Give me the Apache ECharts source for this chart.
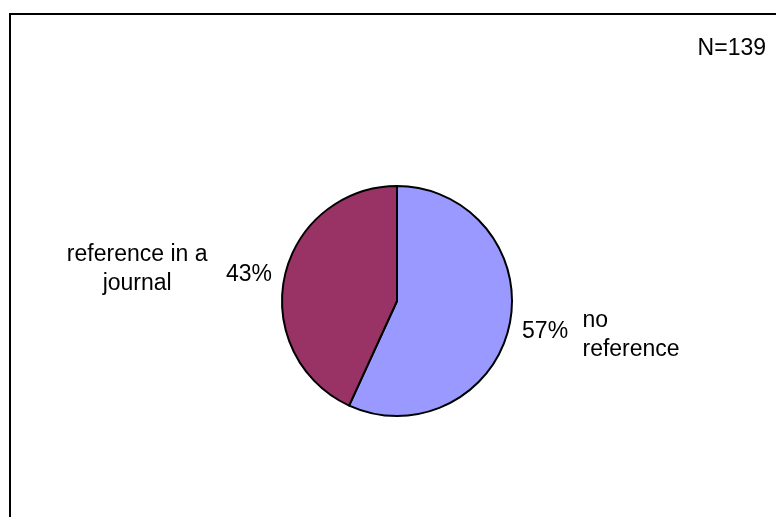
<!DOCTYPE html>
<html>
<head>
<meta charset="utf-8">
<script src="https://cdn.jsdelivr.net/npm/echarts@6/dist/echarts.min.js"></script>
<style>
  html, body { margin: 0; padding: 0; background: #fff; }
  #chart { width: 776px; height: 517px; }
</style>
</head>
<body>
<div id="chart"></div>
<script>
// Survey answers: where the source of the information was given
const categories = ['no reference', 'reference in a journal'];
const nameLabels = ['no\nreference', 'reference in a\njournal'];
const counts = [79, 60];
const sampleSizeLabel = 'N=139';
const sliceColors = ['#9999FF', '#993366'];
const nameAlign = ['left', 'center'];

const FONT = '"Liberation Sans", Arial, Helvetica, sans-serif';
const FONT_SIZE = 23;
const chart = echarts.init(document.getElementById('chart'), null, { renderer: 'canvas' });

const sliceData = categories.map((c, i) => ({
  name: c,
  value: counts[i],
  itemStyle: { color: sliceColors[i] }
}));

const nameData = categories.map((c, i) => ({
  name: c,
  value: counts[i],
  label: { rich: { n: { align: nameAlign[i], fontFamily: FONT, fontSize: FONT_SIZE, lineHeight: 29, color: '#000' } } }
}));

const option = {
  animation: false,
  title: {
    text: sampleSizeLabel,
    right: 5,
    top: 32,
    textStyle: { fontFamily: FONT, fontSize: FONT_SIZE, fontWeight: 'normal', color: '#000' }
  },
  graphic: [{
    type: 'rect',
    silent: true,
    z: -1,
    shape: { x: 10, y: 14, width: 900, height: 700 },
    style: { fill: 'none', stroke: '#000', lineWidth: 2 }
  }],
  series: [
    {
      // slices with their percentages
      type: 'pie',
      center: [397, 301],
      radius: 115,
      startAngle: 90,
      clockwise: true,
      percentPrecision: 0,
      avoidLabelOverlap: false,
      itemStyle: { borderColor: '#000', borderWidth: 2 },
      label: {
        show: true,
        position: 'outside',
        formatter: '{d}%',
        fontFamily: FONT,
        fontSize: FONT_SIZE,
        color: '#000',
        distanceToLabelLine: 0
      },
      labelLine: { show: false, length: 13, length2: 0 },
      labelLayout: p => ({ dy: p.dataIndex === 0 ? 3 : 1 }),
      emphasis: { disabled: true },
      data: sliceData
    },
    {
      // category names, set further out
      type: 'pie',
      center: [397, 301],
      radius: 115,
      startAngle: 90,
      clockwise: true,
      silent: true,
      avoidLabelOverlap: false,
      itemStyle: { color: 'rgba(0,0,0,0)', borderWidth: 0 },
      label: {
        show: true,
        position: 'outside',
        formatter: p => '{n|' + nameLabels[p.dataIndex] + '}',
        distanceToLabelLine: 5
      },
      labelLine: { show: false, length: 38, length2: 31 },
      labelLayout: p => (p.dataIndex === 0 ? { dy: 2 } : { dx: -4, dy: 1 }),
      emphasis: { disabled: true },
      data: nameData
    }
  ]
};

chart.setOption(option);
</script>
</body>
</html>
